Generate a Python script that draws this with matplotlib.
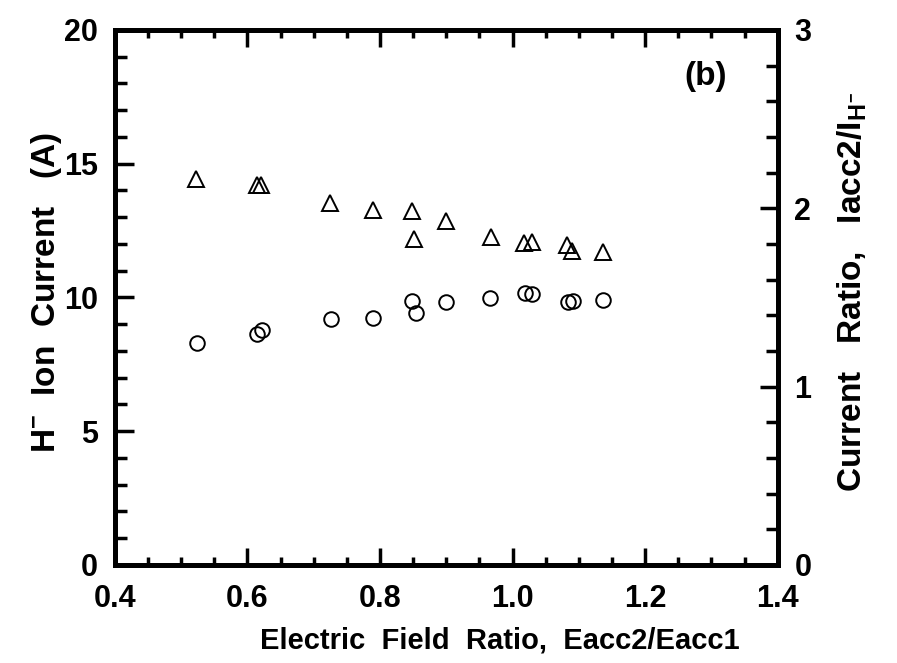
import matplotlib.pyplot as plt
from matplotlib.ticker import MultipleLocator

# Data
field_ratio_ion = [0.524, 0.615, 0.622, 0.726, 0.789, 0.849, 0.854, 0.900,
                   0.966, 1.019, 1.030, 1.084, 1.091, 1.136]
ion_current = [8.31, 8.64, 8.79, 9.20, 9.24, 9.88, 9.41, 9.81,
               9.97, 10.16, 10.13, 9.81, 9.88, 9.91]

field_ratio_cr = [0.523, 0.615, 0.621, 0.725, 0.789, 0.848, 0.852, 0.899,
                  0.967, 1.017, 1.030, 1.082, 1.090, 1.136]
current_ratio = [2.164, 2.131, 2.131, 2.029, 1.991, 1.987, 1.828, 1.928,
                 1.838, 1.804, 1.810, 1.791, 1.761, 1.757]

x_ticks = [0.4, 0.6, 0.8, 1.0, 1.2, 1.4]
x_ticklabels = ['0.4', '0.6', '0.8', '1.0', '1.2', '1.4']

plt.rcParams['font.family'] = ['Liberation Sans', 'DejaVu Sans']
plt.rcParams['font.weight'] = 'bold'
plt.rcParams['mathtext.fontset'] = 'custom'
plt.rcParams['mathtext.rm'] = 'Liberation Sans:bold'
plt.rcParams['mathtext.it'] = 'Liberation Sans:bold'
plt.rcParams['mathtext.bf'] = 'Liberation Sans:bold'

fig = plt.figure(figsize=(8.97, 6.63), dpi=100)
ax = fig.add_axes([0.128, 0.148, 0.739, 0.807])
ax2 = ax.twinx()

ax.plot(field_ratio_ion, ion_current, 'o', ms=10.5, mfc='none', mec='k', mew=1.4)
ax2.plot(field_ratio_cr, current_ratio, '^', ms=11, mfc='none', mec='k', mew=1.4)

ax.set_xlim(0.4, 1.4)
ax.set_ylim(0, 20)
ax2.set_ylim(0, 3)

ax.set_xticks(x_ticks)
ax.set_xticklabels(x_ticklabels)
ax.xaxis.set_minor_locator(MultipleLocator(0.05))
ax.yaxis.set_major_locator(MultipleLocator(5))
ax.yaxis.set_minor_locator(MultipleLocator(1))
ax2.yaxis.set_major_locator(MultipleLocator(1))
ax2.yaxis.set_minor_locator(MultipleLocator(0.2))

ax.tick_params(axis='x', which='both', direction='in', top=True, bottom=True,
               labelsize=22, pad=14)
ax.tick_params(axis='x', which='major', length=12, width=2.5)
ax.tick_params(axis='x', which='minor', length=6, width=2.5)
ax.tick_params(axis='y', which='both', direction='in', left=True, right=False,
               labelsize=22, pad=12)
ax.tick_params(axis='y', which='major', length=14, width=2.5)
ax.tick_params(axis='y', which='minor', length=8.5, width=2.5)
ax2.tick_params(axis='y', which='both', direction='in', labelsize=22, pad=12)
ax2.tick_params(axis='y', which='major', length=13, width=2.5)
ax2.tick_params(axis='y', which='minor', length=8.5, width=2.5)

for sp in ax.spines.values():
    sp.set_linewidth(3.5)
for sp in ax2.spines.values():
    sp.set_linewidth(3.5)

ax.set_xlabel('Electric  Field  Ratio,  Eacc2/Eacc1', fontsize=21,
              fontweight='bold')
ax.xaxis.set_label_coords(0.581, -0.115)
ax.set_ylabel(r'H$^{-}$  Ion  Current   (A)', fontsize=24, fontweight='bold')
ax.yaxis.set_label_coords(-0.076, 0.51)
ax2.set_ylabel(r'Current   Ratio,   Iacc2/I$_{H^{-}}$', fontsize=24,
               fontweight='bold')
ax2.yaxis.set_label_coords(1.088, 0.51)

ax.text(0.891, 0.912, '(b)', transform=ax.transAxes, fontsize=24,
        fontweight='bold', ha='center', va='center')

fig.savefig('out.png', dpi=100)
